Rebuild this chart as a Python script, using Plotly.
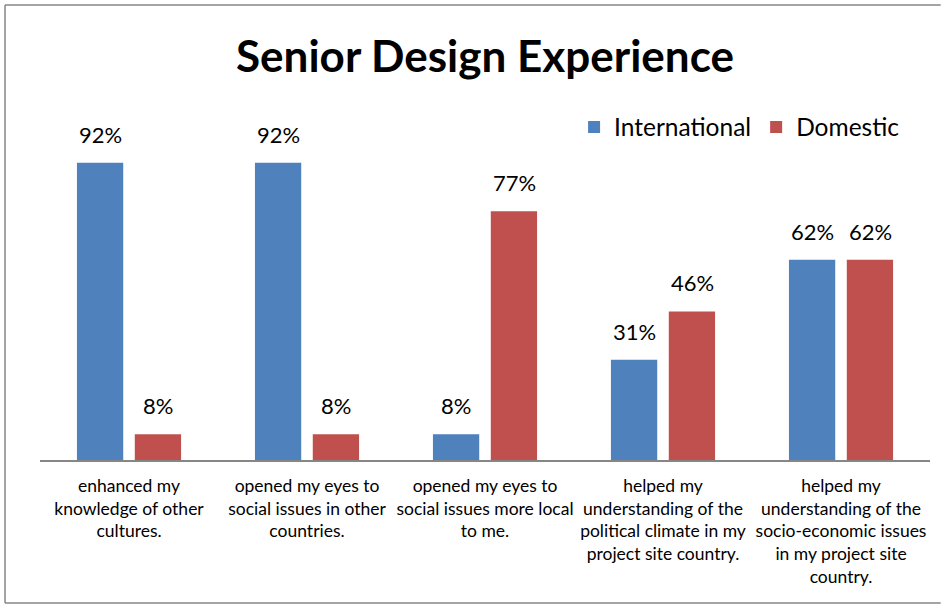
import plotly.graph_objects as go

categories = [
    "enhanced my<br>knowledge of other<br>cultures.",
    "opened my eyes to<br>social issues in other<br>countries.",
    "opened my eyes to<br>social issues more local<br>to me.",
    "helped my<br>understanding of the<br>political climate in my<br>project site country.",
    "helped my<br>understanding of the<br>socio-economic issues<br>in my project site<br>country.",
]
international = [92, 92, 8, 31, 62]
domestic = [8, 8, 77, 46, 62]
series_names = ["International", "Domestic"]
colors = ["#4F81BD", "#C0504D"]

FONT = "Lato"

fig = go.Figure()
for name, vals, col in zip(series_names, [international, domestic], colors):
    fig.add_trace(go.Bar(
        x=categories, y=vals, name=name, marker=dict(color=col, line=dict(width=0)),
    ))

for vals, shift in zip([international, domestic], [-29, 29]):
    for c, v in zip(categories, vals):
        fig.add_annotation(
            x=c, y=v, xref="x", yref="y", text=f"{v}%", showarrow=False,
            xanchor="center", yanchor="bottom", xshift=shift, yshift=13,
            font=dict(family=FONT, size=22, color="#000000"),
        )

# chart border (left, top, bottom; right edge is cropped in the original)
border = dict(color="#868686", width=1.5)
xr = 1.012
for x0, y0, x1, y1 in [(-0.0393, -0.4427, -0.0393, 1.4087),
                       (-0.0393, 1.4087, xr, 1.4087),
                       (-0.0393, -0.4427, xr, -0.4427)]:
    fig.add_shape(type="line", xref="paper", yref="paper",
                  x0=x0, y0=y0, x1=x1, y1=y1, line=border, layer="below")

fig.update_layout(
    width=950, height=605,
    margin=dict(l=40, r=20, t=137, b=145),
    paper_bgcolor="white", plot_bgcolor="white",
    barmode="group", bargap=0.35, bargroupgap=0.2,
    title=dict(text="<b>Senior Design Experience</b>", x=485 / 950, xanchor="center",
               y=1 - 57 / 605, yanchor="middle",
               font=dict(family=FONT, size=44, color="#000000")),
    legend=dict(orientation="h", x=0.972, xanchor="right", y=1.031, yanchor="middle",
                font=dict(family=FONT, size=24.5, color="#000000"),
                bgcolor="rgba(0,0,0,0)", itemwidth=30, traceorder="normal"),
    xaxis=dict(showline=True, linecolor="#868686", linewidth=1.5, ticks="",
               showgrid=False, tickfont=dict(family=FONT, size=17.5, color="#000000"),
               ticklabelstandoff=9, tickangle=0),
    yaxis=dict(range=[0, 100], visible=False, showgrid=False),
    font=dict(family=FONT),
)

fig.write_html("out.html")
